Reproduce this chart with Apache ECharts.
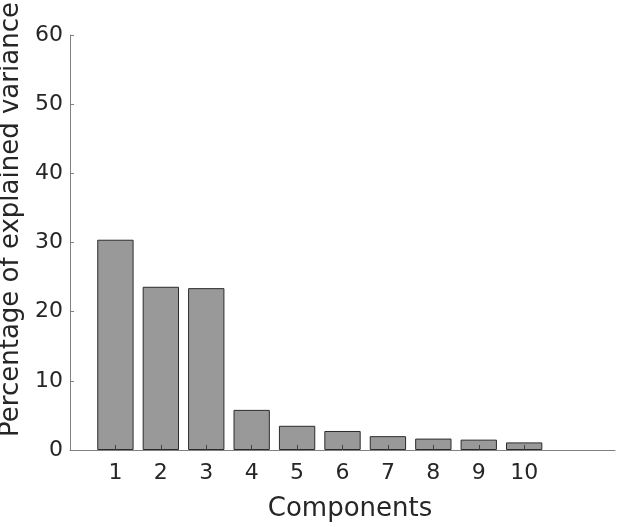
<!DOCTYPE html>
<html>
<head>
<meta charset="utf-8">
<script src="https://cdn.jsdelivr.net/npm/echarts@6/dist/echarts.min.js"></script>
<style>html,body{margin:0;padding:0;background:#fff}#c{width:617px;height:527px}</style>
</head>
<body>
<div id="c"></div>
<script>
const categories = ['1','2','3','4','5','6','7','8','9','10'];
const values = [30.4, 23.6, 23.4, 5.8, 3.5, 2.75, 2.0, 1.65, 1.5, 1.1];
const yTicks = [0, 10, 20, 30, 40, 50, 60];
const xTitle = 'Components';
const yTitle = 'Percentage of explained variance';

// axis slots: one empty slot before, two after
const axisCats = [''].concat(categories, ['', '']);
const seriesData = [null].concat(values, [null, null]);

const chart = echarts.init(document.getElementById('c'), null, {renderer: 'canvas'});
const font = 'DejaVu Sans';
const axisColor = '#808080';
chart.setOption({
  animation: false,
  grid: {left: 70, right: 2, top: 35, bottom: 77, containLabel: false, outerBoundsMode: 'none'},
  xAxis: {
    type: 'category',
    data: axisCats,
    boundaryGap: false,
    z: 5,
    axisLine: {show: true, lineStyle: {color: axisColor, width: 1}},
    axisTick: {show: true, inside: true, length: 5, lineStyle: {color: '#404040'},
      interval: function (i, v) { return v !== ''; }},
    axisLabel: {show: true, color: '#262626', fontFamily: font, fontSize: 22, margin: 12,
      interval: function (i, v) { return v !== ''; }},
    splitLine: {show: false},
    name: xTitle,
    nameLocation: 'middle',
    nameGap: 46,
    nameTextStyle: {color: '#262626', fontFamily: font, fontSize: 26, padding: [0, 0, 0, 15]}
  },
  yAxis: {
    type: 'value',
    min: yTicks[0],
    max: yTicks[yTicks.length - 1],
    interval: yTicks[1] - yTicks[0],
    axisLine: {show: true, lineStyle: {color: axisColor, width: 1}},
    axisTick: {show: true, inside: true, length: 4, lineStyle: {color: axisColor}},
    axisLabel: {color: '#262626', fontFamily: font, fontSize: 22, margin: 7},
    splitLine: {show: false},
    name: yTitle,
    nameLocation: 'middle',
    nameGap: 46,
    nameTextStyle: {color: '#262626', fontFamily: font, fontSize: 26, padding: [0, 0, 0, 46]}
  },
  series: [{
    type: 'bar',
    data: seriesData,
    barWidth: '80%',
    z: 1,
    itemStyle: {color: '#999999', borderColor: '#2b2b2b', borderWidth: 1}
  }]
});
</script>
</body>
</html>
